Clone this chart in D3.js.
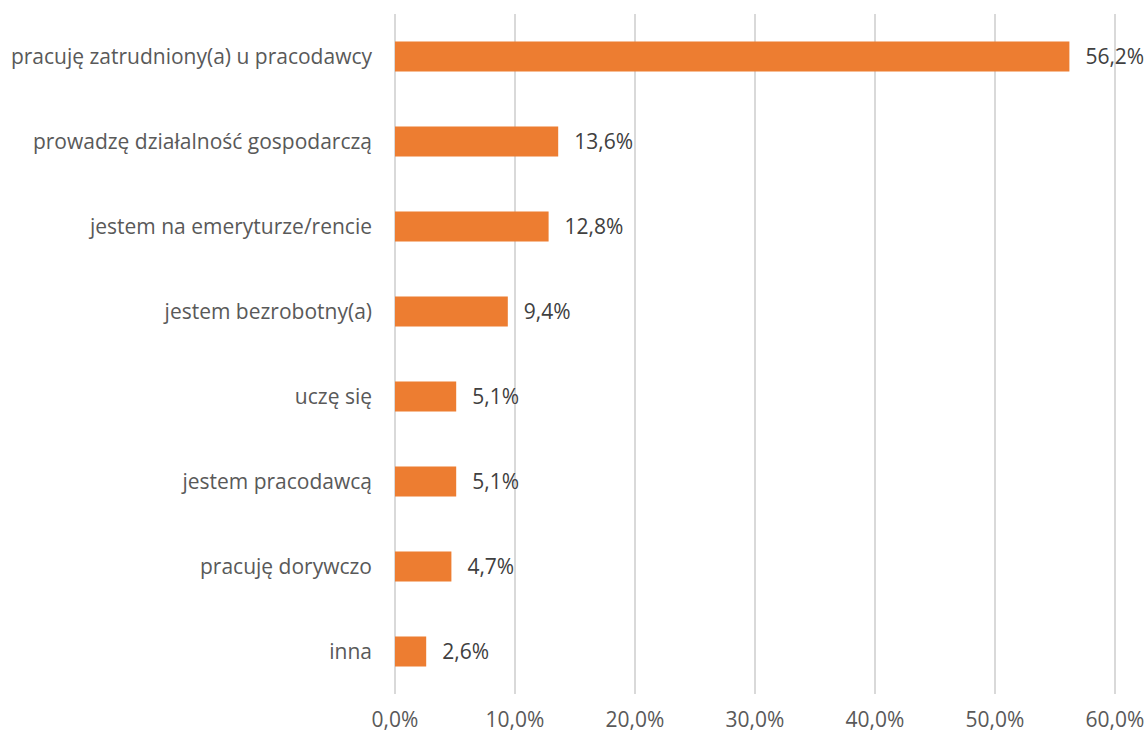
<!DOCTYPE html>
<html><head><meta charset="utf-8">
<script src="https://cdn.jsdelivr.net/npm/d3@7"></script>
<style>body{margin:0;background:#fff}svg{display:block}</style>
</head><body>
<svg id="c" width="1148" height="736"></svg>
<script>
const categories = ["pracuję zatrudniony(a) u pracodawcy","prowadzę działalność gospodarczą","jestem na emeryturze/rencie","jestem bezrobotny(a)","uczę się","jestem pracodawcą","pracuję dorywczo","inna"];
const values = [56.2,13.6,12.8,9.4,5.1,5.1,4.7,2.6];
const ticks = [0,10,20,30,40,50,60];

const svg = d3.select("#c");
const font = "'Open Sans', sans-serif";
const fs = 21;
const fmt = v => v.toFixed(1).replace(".", ",") + "%";
const x = d3.scaleLinear().domain([0,60]).range([395,1115]);
const y = d3.scaleBand().domain(categories).range([14,694]).paddingInner(0.647).paddingOuter(0.3235);

svg.append("g").selectAll("line").data(ticks).join("line")
  .attr("x1", d=>x(d)).attr("x2", d=>x(d)).attr("y1",14).attr("y2",694)
  .attr("stroke","#d9d9d9").attr("stroke-width",2);

svg.append("g").selectAll("rect").data(values).join("rect")
  .attr("x", x(0)).attr("y",(d,i)=>y(categories[i]))
  .attr("width", d=>x(d)-x(0)).attr("height", y.bandwidth())
  .attr("fill","#ed7d31");

svg.append("g").selectAll("text").data(values).join("text")
  .attr("x", d=>x(d)+16).attr("y",(d,i)=>y(categories[i])+y.bandwidth()/2)
  .attr("dy","0.35em").attr("font-family",font).attr("font-size",fs).attr("fill","#404040")
  .text(fmt);

svg.append("g").selectAll("text").data(categories).join("text")
  .attr("x", 372).attr("y", d=>y(d)+y.bandwidth()/2).attr("dy","0.35em")
  .attr("text-anchor","end").attr("font-family",font).attr("font-size",fs).attr("fill","#595959")
  .text(d=>d);

svg.append("g").selectAll("text").data(ticks).join("text")
  .attr("x", d=>x(d)).attr("y", 720).attr("dy","0.35em")
  .attr("text-anchor","middle").attr("font-family",font).attr("font-size",fs).attr("fill","#595959")
  .text(d=>d.toFixed(1).replace(".", ",")+"%");
</script>
</body></html>
